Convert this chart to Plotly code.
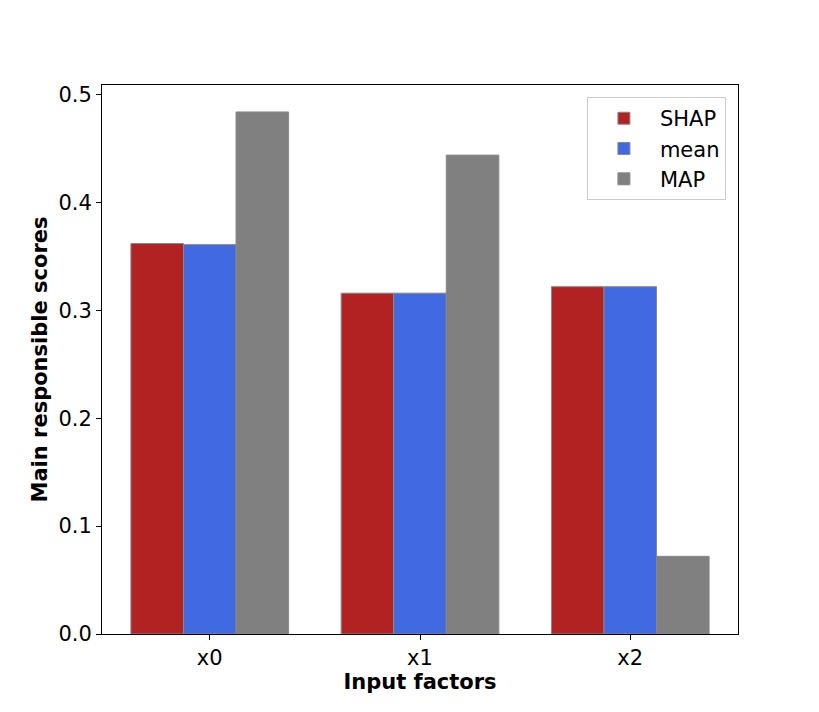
import plotly.graph_objects as go

categories = ["x0", "x1", "x2"]
shap_vals = [0.362, 0.316, 0.322]
mean_vals = [0.361, 0.316, 0.322]
map_vals = [0.484, 0.444, 0.072]

series = [("SHAP", shap_vals, "#b22222"), ("mean", mean_vals, "#4169e1"), ("MAP", map_vals, "#808080")]

fig = go.Figure()
for name, vals, col in series:
    fig.add_trace(go.Bar(x=categories, y=vals, name=name, marker=dict(color=col, line=dict(color="#888888", width=1))))

fig.update_layout(
    width=811, height=704,
    barmode="group", bargap=0.25, bargroupgap=0,
    paper_bgcolor="white", plot_bgcolor="white",
    margin=dict(l=94, r=81, t=77, b=78),
    font=dict(family="DejaVu Sans", size=21, color="black"),
    legend=dict(x=0.981, y=0.978, xanchor="right", yanchor="top",
                bordercolor="#cccccc", borderwidth=1, bgcolor="white",
                font=dict(size=21), tracegroupgap=6, itemwidth=62),
    xaxis=dict(title=dict(text="<b>Input factors</b>", font=dict(size=21), standoff=4),
               range=[-0.5125, 2.5125], showline=True, linecolor="black", linewidth=1, mirror=True,
               ticks="outside", ticklen=5, tickcolor="black", tickfont=dict(size=21)),
    yaxis=dict(title=dict(text="<b>Main responsible scores</b>", font=dict(size=21), standoff=5),
               range=[0, 0.509], dtick=0.1, tickformat=".1f", showline=True, linecolor="black", linewidth=1, mirror=True,
               ticks="outside", ticklen=5, tickcolor="black", showgrid=False, zeroline=False, tickfont=dict(size=21)),
)
fig.write_html("out.html")
